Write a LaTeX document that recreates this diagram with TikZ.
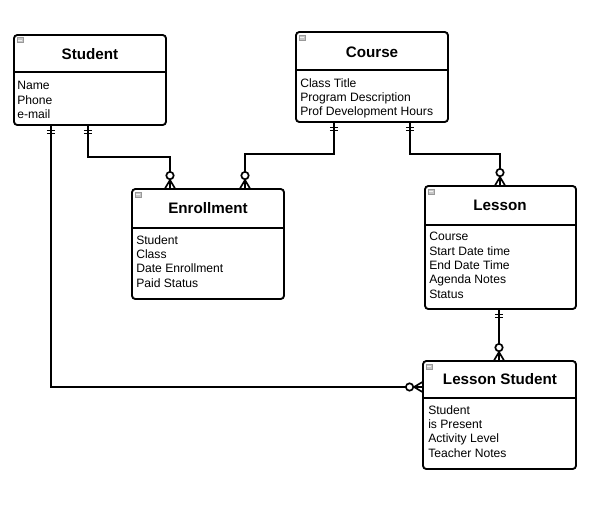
\documentclass[tikz,border=0pt]{standalone}
\usepackage{fontspec}
\setmainfont{Liberation Sans}
\usetikzlibrary{fit,calc}
\tikzset{
  x=0.75pt,y=0.75pt,
  entity/.style={draw, line width=1.4pt, rounded corners=2.5pt, inner sep=0pt},
  divider/.style={line width=1.2pt},
  etitle/.style={font=\bfseries\fontsize{11.4}{13}\selectfont, inner sep=0pt},
  attrs/.style={font=\fontsize{9.1}{10.8}\selectfont, align=left, anchor=north west, inner sep=0pt},
  conn/.style={line width=1.5pt},
  markline/.style={line width=1.25pt},
  onemark/.pic={\draw[markline] (4.5,-4.2)--(4.5,4.2) (7.7,-4.2)--(7.7,4.2);},
  manymark/.pic={\draw[markline] (0,4.8)--(8,0)--(0,-4.8) (0,0)--(8,0);
                 \draw[markline,fill=white] (12.5,0) circle[radius=3.7];},
  minusicon/.pic={\draw[gray!80, fill=gray!45, line width=0.5pt] (0,0) rectangle (6,-5);
                  \draw[gray!10, line width=0.7pt] (1.3,-2.5)--(4.7,-2.5);}
}
\begin{document}
\begin{tikzpicture}
\useasboundingbox (0,0) rectangle (608,-518);

% Student
\node[entity, fit={(14,-35)(166,-125)}] (stu) {};
\draw[divider] (14,-72) -- (166,-72);
\node[etitle] (stut) at (90,-54) {Student};
\node[attrs] (stua) at (17,-81) {Name\\Phone\\e-mail};
\pic at (17,-37.5) {minusicon};

% Course
\node[entity, fit={(296,-32)(448,-122)}] (crs) {};
\draw[divider] (296,-70) -- (448,-70);
\node[etitle] (crst) at (372,-52) {Course};
\node[attrs] (crsa) at (300,-78) {Class Title\\Program Description\\Prof Development Hours};
\pic at (299,-35) {minusicon};

% Enrollment
\node[entity, fit={(132,-189)(284,-299)}] (enr) {};
\draw[divider] (132,-228) -- (284,-228);
\node[etitle] (enrt) at (208,-208) {Enrollment};
\node[attrs] (enra) at (136,-235) {Student\\Class\\Date Enrollment\\Paid Status};
\pic at (135,-192) {minusicon};

% Lesson
\node[entity, fit={(425,-186)(576,-309)}] (les) {};
\draw[divider] (425,-225) -- (576,-225);
\node[etitle] (lest) at (500,-205) {Lesson};
\node[attrs] (lesa) at (429,-232) {Course\\Start Date time\\End Date Time\\Agenda Notes\\Status};
\pic at (428,-189) {minusicon};

% Lesson Student
\node[entity, fit={(423,-361)(576,-469)}] (lst) {};
\draw[divider] (423,-398) -- (576,-398);
\node[etitle] (lstt) at (500,-379) {Lesson Student};
\node[attrs] (lsta) at (428,-405) {Student\\is Present\\Activity Level\\Teacher Notes};
\pic at (426,-364) {minusicon};

% connectors
\draw[conn] (88,0 |- stu.south) |- (170,-157) -- (170,0 |- enr.north);
\pic[rotate=-90] at (88,0 |- stu.south) {onemark};
\pic[rotate=90] at (170,0 |- enr.north) {manymark};

\draw[conn] (51,0 |- stu.south) |- (lst.west |- 0,-387);
\pic[rotate=-90] at (51,0 |- stu.south) {onemark};
\pic[rotate=180] at (lst.west |- 0,-387) {manymark};

\draw[conn] (334,0 |- crs.south) |- (245,-154) -- (245,0 |- enr.north);
\pic[rotate=-90] at (334,0 |- crs.south) {onemark};
\pic[rotate=90] at (245,0 |- enr.north) {manymark};

\draw[conn] (410,0 |- crs.south) |- (500,-154) -- (500,0 |- les.north);
\pic[rotate=-90] at (410,0 |- crs.south) {onemark};
\pic[rotate=90] at (500,0 |- les.north) {manymark};

\draw[conn] (499,0 |- les.south) -- (499,0 |- lst.north);
\pic[rotate=-90] at (499,0 |- les.south) {onemark};
\pic[rotate=90] at (499,0 |- lst.north) {manymark};
\end{tikzpicture}
\end{document}
